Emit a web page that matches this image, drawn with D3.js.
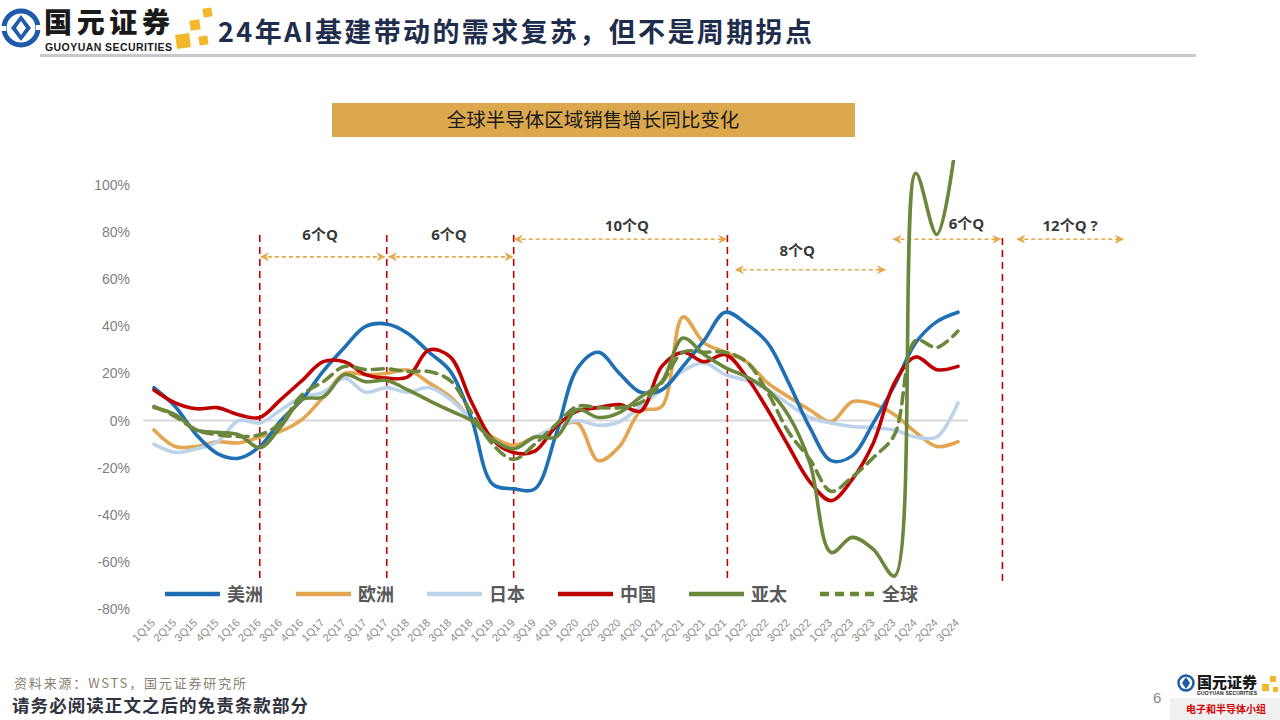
<!DOCTYPE html>
<html><head><meta charset="utf-8">
<script src="https://cdn.jsdelivr.net/npm/d3@7"></script>
<style>body{margin:0;background:#fff;} svg{display:block}</style>
</head><body><svg id="c" width="1280" height="720"></svg>
<script>
// ---------------- data ----------------
const quarters = ["1Q15","2Q15","3Q15","4Q15","1Q16","2Q16","3Q16","4Q16","1Q17","2Q17","3Q17","4Q17",
  "1Q18","2Q18","3Q18","4Q18","1Q19","2Q19","3Q19","4Q19","1Q20","2Q20","3Q20","4Q20",
  "1Q21","2Q21","3Q21","4Q21","1Q22","2Q22","3Q22","4Q22","1Q23","2Q23","3Q23","4Q23","1Q24","2Q24","3Q24"];
const americas = [14,6,-6,-14,-16,-11,0,9,21,31,40,41,37,29,21,1,-27,-29,-29,-6,22,29,20,12,13,23,34,46,41,33,16,-3,-17,-15,-1,15,33,42,46];
const europe   = [-4,-11,-11,-9,-9.5,-7,-4.5,0.5,10,20,19.5,20,21.5,16,10,0.5,-7,-10.5,-7,-3,-1,-17,-11,4,6,44,33,29,25,16,10,4.5,-0.5,8,7,2.5,-5,-11,-9];
const japan    = [-10,-13.5,-12,-9,0,-1,4.5,10,12,18,12,14,12,14,9,0.5,-8,-12,-7,-3,0,-2,-0.5,6,13,21,24.5,19.5,17,13,7,1.3,-1,-2.5,-3,-4,-7,-7,7.5];
const china    = [13,7.5,5,5.5,2.5,1.3,9,17,25,25,19.5,18,18.6,30,27,8,-8,-13.6,-13,-2.5,4,5.5,6.8,4,23,29,25,28,18.6,4.7,-11,-26,-34,-25,-9.5,16,27,21.6,23];
const apac     = [5.5,2.5,-4,-5,-6,-11.5,-2.5,9,10,19.5,16.5,17,13,8.5,4.2,0,-8,-12,-7,-7,4.7,1.3,3.4,10,16.5,35,28,22.5,18.6,13,2,-18,-56,-49.6,-54.7,-66,105,79,125];
const worldwide= [6,1.7,-4,-6,-6.8,-6,-1,11,16.5,23,21.6,22,20.8,20.8,17,3.4,-10,-16.5,-10,-1.7,6,5.5,5.5,7.6,16,29,29,29,25,12,-5,-16.5,-30,-24,-15.7,-6,34,31,38];
const yTicks = [-80,-60,-40,-20,0,20,40,60,80,100];
const seriesNames = ["美洲","欧洲","日本","中国","亚太","全球"];
// cycle annotations, in quarter-index units and % values
const cycleLines = [{q:5,from:78.8,to:-67.4},{q:11,from:78.8,to:-67.4},{q:17,from:78.8,to:-67.4},{q:27.1,from:78.8,to:-67.4},{q:40.1,from:77.5,to:-69.5}];
const cycleSpans = [
  {a:5.05,b:10.9,v:69.5,lq:7.85,lv:76.7,label:"6个Q"},
  {a:11.1,b:16.95,v:69.5,lq:13.94,lv:76.7,label:"6个Q"},
  {a:17.05,b:27.05,v:77,lq:22.35,lv:80.5,label:"10个Q"},
  {a:27.5,b:34.55,v:64,lq:30.4,lv:69.9,label:"8个Q"},
  {a:34.95,b:40.0,v:77,lq:38.4,lv:81.4,label:"6个Q"},
  {a:40.8,b:45.8,v:77,lq:43.3,lv:80.5,label:"12个Q ?"}
];

// ---------------- setup ----------------
const svg = d3.select("#c");
const x = d3.scalePoint().domain(quarters).range([154,958]);
const xi = d3.scaleLinear().domain([0,quarters.length-1]).range([154,958]);
const y = d3.scaleLinear().domain([-80,100]).range([609,185]);
const colors = ["#1F6FB5","#E2A550","#BCD3EA","#C00000","#6A873C","#6A873C"];
const series = [americas,europe,japan,china,apac,worldwide];
const CJK = "'Noto Sans CJK SC','Noto Sans',sans-serif";

// ---------------- header ----------------
const hd = svg.append("g");
hd.append("circle").attr("cx",21).attr("cy",28).attr("r",17).attr("fill","none").attr("stroke","#1E5BA8").attr("stroke-width",5);
hd.append("path").attr("d","M21,15 L31,28 L21,41 L11,28 Z").attr("fill","#1E5BA8");
hd.append("path").attr("d","M21,21 L26,28 L21,35 L16,28 Z").attr("fill","#fff");
hd.append("rect").attr("x",0).attr("y",26).attr("width",6).attr("height",5).attr("fill","#fff");
hd.append("rect").attr("x",36).attr("y",25).attr("width",6).attr("height",5).attr("fill","#fff");
hd.append("text").attr("x",44).attr("y",33).text("国元证券")
  .attr("font-family",CJK).attr("font-weight",900).attr("font-size",28).attr("fill","#1a1a1a").attr("textLength",126);
hd.append("text").attr("x",45).attr("y",51).text("GUOYUAN SECURITIES")
  .attr("font-family","'Liberation Sans',Arial,sans-serif").attr("font-weight",700).attr("font-size",10.5).attr("fill","#1a1a1a").attr("textLength",127);
[[176,34,14],[190,20,10],[203,8,9],[199,36,9]].forEach(s=>{
  hd.append("rect").attr("x",s[0]).attr("y",s[1]).attr("width",s[2]).attr("height",s[2]).attr("fill","#F2B72A")
    .attr("transform",`rotate(-8,${s[0]+s[2]/2},${s[1]+s[2]/2})`);
});
hd.append("text").attr("x",218).attr("y",42).text("24年AI基建带动的需求复苏，但不是周期拐点")
  .attr("font-family",CJK).attr("font-weight",700).attr("font-size",27).attr("fill","#1F2D4D").attr("textLength",594);
hd.append("rect").attr("x",40).attr("y",54).attr("width",1156).attr("height",3).attr("fill","#C9C9C9");

// title box
svg.append("rect").attr("x",332).attr("y",103).attr("width",523).attr("height",34).attr("fill","#DCA84E");
svg.append("text").attr("x",593).attr("y",127).attr("text-anchor","middle").text("全球半导体区域销售增长同比变化")
  .attr("font-family",CJK).attr("font-size",19.5).attr("fill","#1a1a1a");

// ---------------- axes ----------------
const yAxis = svg.append("g").attr("transform","translate(138,0)")
  .call(d3.axisLeft(y).tickValues(yTicks).tickFormat(d=>d+"%").tickSize(0).tickPadding(8));
yAxis.select(".domain").remove();
yAxis.selectAll("text").attr("font-family","'Liberation Sans',Arial,sans-serif").attr("font-size",14).attr("fill","#7F7F7F");

const xAxis = svg.append("g").attr("transform","translate(-1,621)")
  .call(d3.axisBottom(x).tickSize(0));
xAxis.select(".domain").remove();
xAxis.selectAll("text").attr("x",0).attr("y",0).attr("dy","0.3em").attr("text-anchor","end")
  .attr("transform","rotate(-45)")
  .attr("font-family","'Liberation Sans',Arial,sans-serif").attr("font-size",11).attr("fill","#8C8C8C");

svg.append("line").attr("x1",143).attr("x2",968).attr("y1",y(0)).attr("y2",y(0)).attr("stroke","#D9D9D9").attr("stroke-width",2);

// ---------------- annotations ----------------
const defs = svg.append("defs");
defs.append("clipPath").attr("id","plot").append("rect").attr("x",100).attr("y",160).attr("width",900).attr("height",470);
const mk = defs.append("marker").attr("id","arr").attr("viewBox","0 0 10 10").attr("refX",9).attr("refY",5)
  .attr("markerWidth",9).attr("markerHeight",9).attr("markerUnits","userSpaceOnUse").attr("orient","auto-start-reverse");
mk.append("path").attr("d","M0,0 L10,5 L0,10 L3,5 Z").attr("fill","#E5A84B");

svg.append("g").selectAll("line").data(cycleLines).join("line")
  .attr("x1",d=>xi(d.q)).attr("x2",d=>xi(d.q)).attr("y1",d=>y(d.from)).attr("y2",d=>y(d.to))
  .attr("stroke","#C00000").attr("stroke-width",1.6).attr("stroke-dasharray","7,5");

const sp = svg.append("g");
sp.selectAll("line").data(cycleSpans).join("line")
  .attr("x1",d=>xi(d.a)).attr("x2",d=>xi(d.b)).attr("y1",d=>y(d.v)).attr("y2",d=>y(d.v))
  .attr("stroke","#E5A84B").attr("stroke-width",1.6).attr("stroke-dasharray","4,3")
  .attr("marker-start","url(#arr)").attr("marker-end","url(#arr)");

// ---------------- lines ----------------
const line = d3.line().x((d,i)=>x(quarters[i])).y(d=>y(d)).curve(d3.curveCatmullRom.alpha(0.5));
const lg = svg.append("g").attr("clip-path","url(#plot)");
const order = [1,2,0,3,4,5];
order.forEach(k=>{
  lg.append("path").datum(series[k]).attr("d",line).attr("fill","none")
    .attr("stroke",colors[k]).attr("stroke-width",3.6).attr("stroke-linejoin","round").attr("stroke-linecap","round")
    .attr("stroke-dasharray",k===5?"11,7":null);
});

// span labels (drawn above lines, like the reference)
svg.append("g").selectAll("text").data(cycleSpans).join("text")
  .attr("x",d=>xi(d.lq)).attr("y",d=>y(d.lv)).attr("text-anchor","middle").text(d=>d.label)
  .attr("font-family","'Open Sans','Noto Sans CJK SC',sans-serif").attr("font-weight",700).attr("font-size",15).attr("fill","#3a3a3a");

// ---------------- legend ----------------
const leg = svg.append("g").selectAll("g").data(seriesNames).join("g")
  .attr("transform",(d,i)=>`translate(${165+i*131},594)`);
leg.append("line").attr("x1",0).attr("x2",55).attr("y1",0).attr("y2",0)
  .attr("stroke",(d,i)=>colors[i]).attr("stroke-width",4.5)
  .attr("stroke-dasharray",(d,i)=>i===5?"9,6":null);
leg.append("text").attr("x",62).attr("y",7).text(d=>d)
  .attr("font-family",CJK).attr("font-weight",700).attr("font-size",18).attr("fill","#595959");

// ---------------- footer ----------------
svg.append("text").attr("x",14).attr("y",688).text("资料来源：WSTS，国元证券研究所")
  .attr("font-family",CJK).attr("font-size",13).attr("fill","#8A7F70").attr("textLength",232);
svg.append("text").attr("x",12).attr("y",712).text("请务必阅读正文之后的免责条款部分")
  .attr("font-family",CJK).attr("font-weight",700).attr("font-size",17.5).attr("fill","#2f3440").attr("textLength",296);
svg.append("text").attr("x",1153).attr("y",703).text("6")
  .attr("font-family","'Liberation Sans',Arial,sans-serif").attr("font-size",15).attr("fill","#8C8C8C");
const br = svg.append("g");
br.append("rect").attr("x",1170).attr("y",698).attr("width",110).attr("height",22).attr("fill","#F0F0F0");
br.append("circle").attr("cx",1186).attr("cy",683).attr("r",7.5).attr("fill","none").attr("stroke","#1E5BA8").attr("stroke-width",2.5);
br.append("path").attr("d","M1186,677 L1190,683 L1186,689 L1182,683 Z").attr("fill","#1E5BA8");
br.append("text").attr("x",1197).attr("y",688).text("国元证券").attr("font-family",CJK).attr("font-weight",900).attr("font-size",15).attr("fill","#1a1a1a");
br.append("text").attr("x",1197).attr("y",695).text("GUOYUAN SECURITIES").attr("font-family","'Liberation Sans',sans-serif").attr("font-weight",700).attr("font-size",5).attr("fill","#1a1a1a").attr("textLength",60);
[[1262,684,7],[1270,676,6],[1273,687,5]].forEach(s=>br.append("rect").attr("x",s[0]).attr("y",s[1]).attr("width",s[2]).attr("height",s[2]).attr("fill","#F2B72A"));
br.append("text").attr("x",1226).attr("y",713).attr("text-anchor","middle").text("电子和半导体小组")
  .attr("font-family",CJK).attr("font-weight",700).attr("font-size",10).attr("fill","#D40000");
</script></body></html>
